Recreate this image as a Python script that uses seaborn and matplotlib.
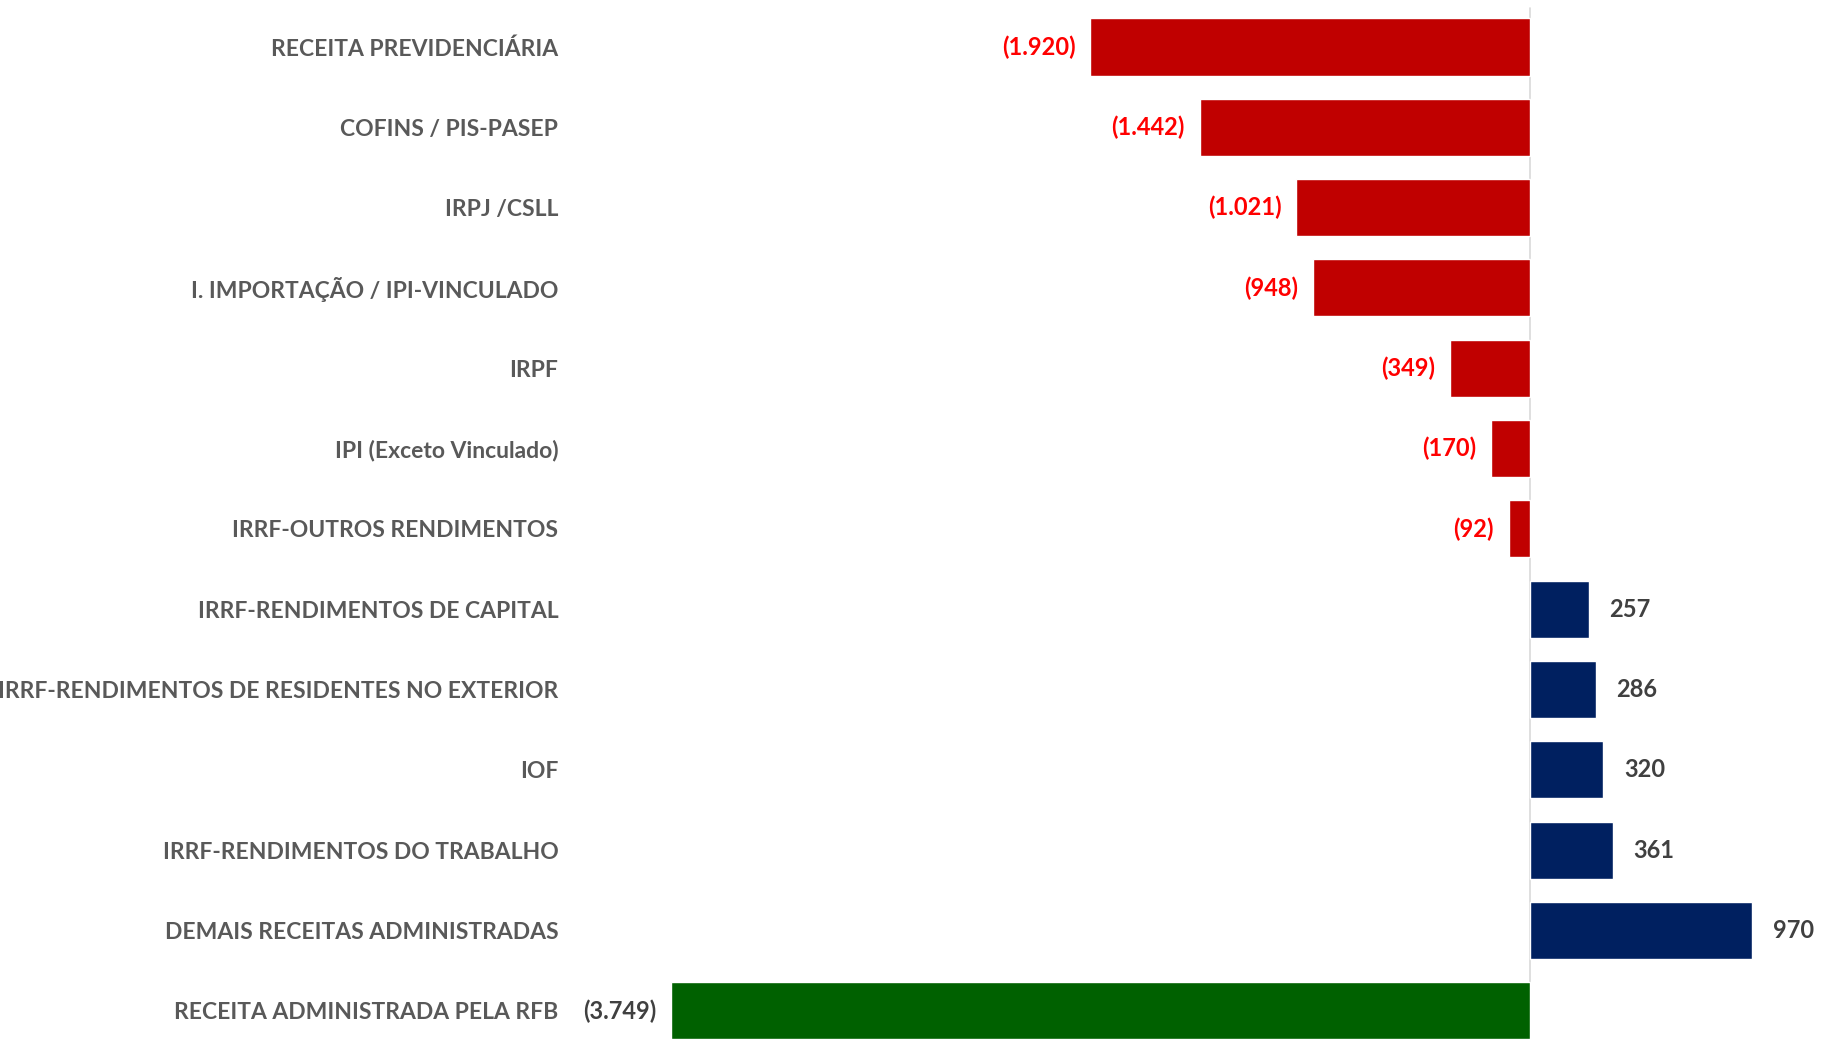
import matplotlib
matplotlib.use('Agg')
import matplotlib.pyplot as plt
import seaborn as sns
import pandas as pd

categorias = [
    'RECEITA PREVIDENCIÁRIA',
    'COFINS / PIS-PASEP',
    'IRPJ /CSLL',
    'I. IMPORTAÇÃO / IPI-VINCULADO',
    'IRPF',
    'IPI (Exceto Vinculado)',
    'IRRF-OUTROS RENDIMENTOS',
    'IRRF-RENDIMENTOS DE CAPITAL',
    'IRRF-RENDIMENTOS DE RESIDENTES NO EXTERIOR',
    'IOF',
    'IRRF-RENDIMENTOS DO TRABALHO',
    'DEMAIS RECEITAS ADMINISTRADAS',
    'RECEITA ADMINISTRADA PELA RFB',
]
valores = [-1920, -1442, -1021, -948, -349, -170, -92, 257, 286, 320, 361, 970, -3749]

VERMELHO = '#C00000'
AZUL = '#002060'
VERDE = '#006100'

cores = {}
for c, v in zip(categorias, valores):
    if c == 'RECEITA ADMINISTRADA PELA RFB':
        cores[c] = VERDE
    elif v < 0:
        cores[c] = VERMELHO
    else:
        cores[c] = AZUL

df = pd.DataFrame({'Categoria': categorias, 'Valor': valores})


def fmt(v):
    s = '{:,}'.format(abs(v)).replace(',', '.')
    return '({})'.format(s) if v < 0 else s


sns.set_style('white')
plt.rcParams['font.family'] = ['Lato', 'DejaVu Sans']

fig = plt.figure(figsize=(18.22, 10.39), dpi=100)
ax = fig.add_axes([600 / 1822, 0, 1 - 600 / 1822, 1])

sns.barplot(data=df, x='Valor', y='Categoria', hue='Categoria', palette=cores,
            orient='h', width=0.71, legend=False, ax=ax, saturation=1)

ax.set_xlim(-4061, 1275)
ax.set_ylim(12.35, -0.585)
ax.axvline(0, ymin=0, ymax=1 - 8 / 1039, color='#D9D9D9', lw=1.2, zorder=0)

FS = 16.5
for i, (c, v) in enumerate(zip(categorias, valores)):
    if c == 'RECEITA ADMINISTRADA PELA RFB':
        ax.text(v - 65, i, fmt(v), ha='right', va='center', fontsize=FS + 0.5,
                fontweight='bold', color='#404040')
    elif v < 0:
        ax.text(v - 65, i, fmt(v), ha='right', va='center', fontsize=FS + 0.5,
                fontweight='bold', color='#FF0000')
    else:
        ax.text(v + 90, i, fmt(v), ha='left', va='center', fontsize=FS + 0.5,
                fontweight='bold', color='#404040')

ax.set_xlabel('')
ax.set_ylabel('')
ax.set_xticks([])
ax.tick_params(axis='y', length=0, pad=30)
for lbl in ax.get_yticklabels():
    lbl.set_fontsize(FS)
    lbl.set_fontweight('bold')
    lbl.set_color('#595959')
sns.despine(left=True, bottom=True)

fig.savefig('out.png', dpi=100)
